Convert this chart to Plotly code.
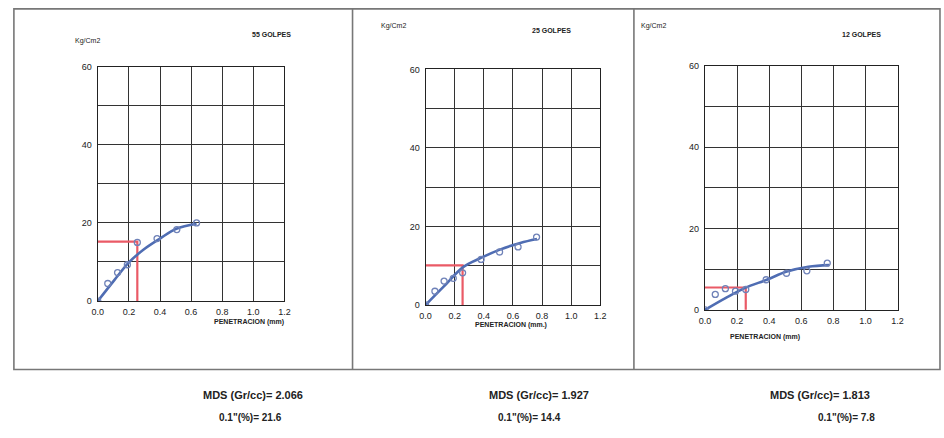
import plotly.graph_objects as go

# Penetration readings and loads per compaction energy
pen_55 = [0.0, 0.064, 0.127, 0.19, 0.254, 0.381, 0.508, 0.635]
load_55 = [0.0, 4.5, 7.3, 9.3, 15.0, 16.0, 18.3, 20.0]
pen_25 = [0.0, 0.064, 0.127, 0.19, 0.254, 0.381, 0.508, 0.635, 0.762]
load_25 = [0.0, 3.5, 6.1, 6.8, 8.2, 11.6, 13.5, 14.8, 17.3]
pen_12 = [0.0, 0.064, 0.127, 0.19, 0.254, 0.381, 0.508, 0.635, 0.762]
load_12 = [0.0, 3.8, 5.2, 4.6, 5.0, 7.4, 9.0, 9.6, 11.5]

# Smoothed trend curves
curve_x_55 = [0.0, 0.105, 0.2, 0.295, 0.4, 0.505, 0.635]
curve_y_55 = [0.0, 5.3, 9.9, 13.2, 16.0, 18.5, 19.8]
curve_x_25 = [0.0, 0.122, 0.26, 0.38, 0.51, 0.65, 0.765]
curve_y_25 = [0.0, 4.6, 9.7, 12.0, 14.1, 15.8, 16.8]
curve_x_12 = [0.0, 0.133, 0.25, 0.385, 0.51, 0.644, 0.775]
curve_y_12 = [0.0, 3.0, 5.4, 7.4, 9.4, 10.6, 11.0]

# Corrected load at 0.1" penetration
corr_pen = [0.254, 0.254, 0.254]
corr_load = [15.2, 10.1, 5.5]

titles = ["55 GOLPES", "25 GOLPES", "12 GOLPES"]
y_unit = "Kg/Cm2"
x_titles = ["PENETRACION (mm)", "PENETRACION (mm.)", "PENETRACION (mm)"]
mds_values = ["2.066", "1.927", "1.813"]
cbr_values = ["21.6", "14.4", "7.8"]
x_ticks = [0.0, 0.2, 0.4, 0.6, 0.8, 1.0, 1.2]
x_tick_text = ["0.0", "0.2", "0.4", "0.6", "0.8", "1.0", "1.2"]
y_ticks = [0, 20, 40, 60]

W, H = 944, 438


def px(x):
    return x / W


def py(y):
    return 1 - y / H


# plot areas in pixels: left, right, top, bottom
areas = [(93, 282, 63, 303), (425, 602, 66, 307), (708, 903, 62, 312)]

BLUE = "#4f6db3"
MARK = "#6f82b8"
RED = "#ea5a66"
INK = "#222"
FONT = "Liberation Sans"

fig = go.Figure()
series = [
    (pen_55, load_55, curve_x_55, curve_y_55),
    (pen_25, load_25, curve_x_25, curve_y_25),
    (pen_12, load_12, curve_x_12, curve_y_12),
]

annotations = []
for i, (px_, py_, cx, cy) in enumerate(series):
    xa = "x" if i == 0 else f"x{i+1}"
    ya = "y" if i == 0 else f"y{i+1}"
    # red guide lines at 0.1"
    fig.add_trace(go.Scatter(
        x=[0, corr_pen[i], corr_pen[i]], y=[corr_load[i], corr_load[i], 0],
        mode="lines", line=dict(color=RED, width=2.2), xaxis=xa, yaxis=ya,
        showlegend=False, hoverinfo="skip"))
    fig.add_trace(go.Scatter(
        x=cx, y=cy, mode="lines", line=dict(color=BLUE, width=2.6, shape="spline"),
        xaxis=xa, yaxis=ya, showlegend=False))
    fig.add_trace(go.Scatter(
        x=px_, y=py_, mode="markers",
        marker=dict(symbol="circle-open", size=6, color=MARK, line=dict(width=1.3)),
        xaxis=xa, yaxis=ya, showlegend=False))

    l, r, t, b = areas[i]
    axis_common = dict(showline=True, linecolor="#222", linewidth=1.3, mirror=True,
                       gridcolor="#333", gridwidth=1, zeroline=False,
                       tickfont=dict(family=FONT, size=9, color=INK), ticks="")
    fig.update_layout(**{
        ("xaxis" if i == 0 else f"xaxis{i+1}"): dict(
            domain=[px(l), px(r)], range=[0, 1.2], tickvals=x_ticks, ticktext=x_tick_text,
            anchor=ya, ticklabelstandoff=2, **axis_common),
        ("yaxis" if i == 0 else f"yaxis{i+1}"): dict(
            domain=[py(b), py(t)], range=[0, 60], tickvals=y_ticks, anchor=xa,
            minor=dict(dtick=10, showgrid=True, gridcolor="#333", gridwidth=1),
            ticklabelstandoff=3, **axis_common),
    })

# panel labels
label_pos = [
    dict(unit=(68, 31), title=(247, 25), xt=(210, 330)),
    dict(unit=(392, 15), title=(553, 20), xt=(512, 333)),
    dict(unit=(671, 15), title=(888, 25), xt=(805, 345)),
]
for i, lp in enumerate(label_pos):
    annotations.append(dict(x=px(lp["unit"][0]), y=py(lp["unit"][1]), xref="paper", yref="paper",
                            text=y_unit, showarrow=False, font=dict(family=FONT, size=7, color=INK)))
    annotations.append(dict(x=px(lp["title"][0]), y=py(lp["title"][1]), xref="paper", yref="paper",
                            text="<b>" + titles[i] + "</b>", showarrow=False,
                            font=dict(family=FONT, size=7, color=INK)))
    annotations.append(dict(x=px(lp["xt"][0]), y=py(lp["xt"][1]), xref="paper", yref="paper",
                            text="<b>" + x_titles[i] + "</b>", showarrow=False, borderpad=0,
                            font=dict(family=FONT, size=7, color=INK)))

# summary values under each panel
mds_x = [198, 540, 877]
cbr_x = [214, 530, 882]
for i in range(3):
    annotations.append(dict(x=px(mds_x[i]), y=py(407), xref="paper", yref="paper",
                            text="<b>MDS (Gr/cc)= " + mds_values[i] + "</b>", showarrow=False,
                            font=dict(family=FONT, size=11, color=INK)))
    annotations.append(dict(x=px(cbr_x[i]), y=py(430), xref="paper", yref="paper",
                            text="<b>0.1\"(%)= " + cbr_values[i] + "</b>", showarrow=False,
                            font=dict(family=FONT, size=10, color=INK)))

# outer frame and panel dividers
frame = dict(color="#777", width=1.6)
shapes = [
    dict(type="rect", xref="paper", yref="paper", x0=px(8), x1=px(946), y0=py(373), y1=py(4), line=frame),
    dict(type="line", xref="paper", yref="paper", x0=px(351), x1=px(351), y0=py(373), y1=py(4), line=frame),
    dict(type="line", xref="paper", yref="paper", x0=px(636), x1=px(636), y0=py(373), y1=py(4), line=frame),
]

fig.update_layout(width=W, height=H, margin=dict(l=0, r=0, t=0, b=0),
                  paper_bgcolor="white", plot_bgcolor="white",
                  annotations=annotations, shapes=shapes)

fig.write_html("out.html")
